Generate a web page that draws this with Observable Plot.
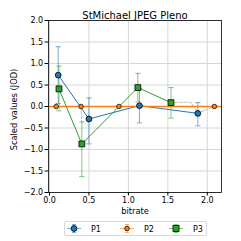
<!DOCTYPE html>
<html><head><meta charset="utf-8">
<script src="https://cdn.jsdelivr.net/npm/d3@7"></script>
<script src="https://cdn.jsdelivr.net/npm/@observablehq/plot@0.6"></script>
<style>
body{margin:0;background:#fff;font-family:"DejaVu Sans",sans-serif;}
#wrap{position:relative;width:241px;height:241px;}
#legend{position:absolute;left:64px;top:221px;width:141px;height:13px;border:1px solid #d8d8d8;border-radius:2px;background:#fff;}
</style></head>
<body><div id="wrap"><div id="legend"></div></div>
<script>
const title = "StMichael JPEG Pleno";
const xLabel = "bitrate";
const yLabel = "Scaled values (JOD)";
const xTicks = [0, 0.5, 1.0, 1.5, 2.0];
const yTicks = [-2, -1.5, -1, -0.5, 0, 0.5, 1, 1.5, 2];
const seriesNames = ["P1", "P2", "P3"];
const colors = ["#1f77b4", "#ff7f0e", "#2ca02c"];

const p1X = [0.11, 0.50, 1.14, 1.88];
const p1Y = [0.73, -0.29, 0.02, -0.16];
const p1Lo = [0.07, -0.87, -0.38, -0.45];
const p1Hi = [1.39, 0.20, 0.42, 0.09];

const p2X = [0.085, 0.40, 0.88, 2.09];
const p2Y = [0, 0, 0, 0];

const p3X = [0.12, 0.41, 1.12, 1.54];
const p3Y = [0.41, -0.87, 0.44, 0.09];
const p3Lo = [-0.10, -1.63, 0.11, -0.27];
const p3Hi = [0.94, -0.36, 0.77, 0.44];

const grayX = [0.40, 0.41, 1.54, 1.79, 1.88, 2.09];
const grayY = [0.0, -0.36, 0.10, 0.10, -0.15, 0.0];
const grayG = [0, 0, 1, 1, 1, 1];

const mk = (xs, ys, lo, hi, s) => xs.map((x, i) => ({x, y: ys[i], lo: lo ? lo[i] : ys[i], hi: hi ? hi[i] : ys[i], s}));
const p1 = mk(p1X, p1Y, p1Lo, p1Hi, "P1");
const p2 = mk(p2X, p2Y, null, null, "P2");
const p3 = mk(p3X, p3Y, p3Lo, p3Hi, "P3");
const gray = grayX.map((x, i) => ({x, y: grayY[i], g: grayG[i]}));

const capSym = {draw(ctx, size) { const w = 2.6; ctx.moveTo(-w, 0); ctx.lineTo(w, 0); }};

function errMarks(data, c) {
  return [
    Plot.ruleX(data, {x: "x", y1: "lo", y2: "hi", stroke: c, strokeOpacity: 0.6, strokeWidth: 1}),
    Plot.dot(data, {x: "x", y: "lo", symbol: capSym, stroke: c, strokeOpacity: 0.6, strokeWidth: 1, fill: "none"}),
    Plot.dot(data, {x: "x", y: "hi", symbol: capSym, stroke: c, strokeOpacity: 0.6, strokeWidth: 1, fill: "none"})
  ];
}

const chart = Plot.plot({
  width: 241, height: 241,
  marginLeft: 48, marginRight: 20, marginTop: 20, marginBottom: 49,
  style: {fontFamily: "DejaVu Sans", fontSize: "8px", background: "#fff", color: "#000"},
  x: {domain: [-0.0127, 2.18]},
  y: {domain: [-2, 2]},
  marks: [
    Plot.gridX(xTicks, {stroke: "#d6d6d6", strokeOpacity: 1, strokeWidth: 1}),
    Plot.gridY(yTicks, {stroke: "#d6d6d6", strokeOpacity: 1, strokeWidth: 1}),
    Plot.line(gray, {x: "x", y: "y", z: "g", stroke: "#c4c4c4", strokeWidth: 1.1, strokeDasharray: "3,1.5"}),
    ...errMarks(p1, colors[0]),
    ...errMarks(p3, colors[2]),
    Plot.line(p1, {x: "x", y: "y", stroke: colors[0], strokeWidth: 1}),
    Plot.line(p3, {x: "x", y: "y", stroke: colors[2], strokeWidth: 1}),
    Plot.ruleY([0], {stroke: colors[1], strokeWidth: 1.6}),
    Plot.line(p2, {x: "x", y: "y", stroke: colors[1], strokeWidth: 1.2}),
    Plot.dot(p1, {x: "x", y: "y", r: 2.9, fill: colors[0], stroke: "#000", strokeWidth: 0.8}),
    Plot.dot(p2, {x: "x", y: "y", r: 2.3, fill: colors[1], stroke: "#000", strokeWidth: 0.7}),
    Plot.dot(p3, {x: "x", y: "y", r: 3.3, symbol: "square", fill: colors[2], stroke: "#000", strokeWidth: 0.8}),
    Plot.axisX(xTicks, {tickSize: 3.5, tickPadding: 1.5, tickFormat: d3.format(".1f"), fontSize: 8, label: null}),
    Plot.axisY(yTicks, {tickSize: 3.5, tickPadding: 1.8, tickFormat: d => d3.format(".1f")(d).replace("-", "\u2212"), fontSize: 8, label: null}),
    Plot.frame({stroke: "#000", strokeWidth: 0.8}),
    Plot.text([title], {frameAnchor: "top", dy: -9, fontSize: 10, fill: "#000"}),
    Plot.text([xLabel], {frameAnchor: "bottom", dy: 21, fontSize: 8.3, fill: "#000"}),
    Plot.text([yLabel], {frameAnchor: "left", textAnchor: "middle", dx: -34, dy: 3, rotate: -90, fontSize: 8.3, fill: "#000"})
  ]
});
document.getElementById("wrap").prepend(chart);

// legend
const legendSvg = d3.create("svg").attr("width", 141).attr("height", 13).style("display", "block");
const itemX = [2, 55, 104];
seriesNames.forEach((name, i) => {
  const g = legendSvg.append("g").attr("transform", `translate(${itemX[i]},6.5)`);
  const c = colors[i];
  g.append("line").attr("x1", 0).attr("x2", 14).attr("y1", 0).attr("y2", 0).attr("stroke", c).attr("stroke-opacity", 0.6).attr("stroke-width", 1);
  g.append("line").attr("x1", 7).attr("x2", 7).attr("y1", -4).attr("y2", 4).attr("stroke", c).attr("stroke-opacity", 0.6);
  g.append("line").attr("x1", 5).attr("x2", 9).attr("y1", -4).attr("y2", -4).attr("stroke", c).attr("stroke-opacity", 0.6);
  g.append("line").attr("x1", 5).attr("x2", 9).attr("y1", 4).attr("y2", 4).attr("stroke", c).attr("stroke-opacity", 0.6);
  if (i === 2) g.append("rect").attr("x", 4).attr("y", -3).attr("width", 6).attr("height", 6).attr("fill", c).attr("stroke", "#000").attr("stroke-width", 0.8);
  else g.append("circle").attr("cx", 7).attr("cy", 0).attr("r", i === 1 ? 2.3 : 2.9).attr("fill", c).attr("stroke", "#000").attr("stroke-width", 0.8);
  g.append("text").attr("x", 24).attr("y", 3).attr("font-size", 8).attr("font-family", "DejaVu Sans").text(name);
});
document.getElementById("legend").append(legendSvg.node());
</script></body></html>
